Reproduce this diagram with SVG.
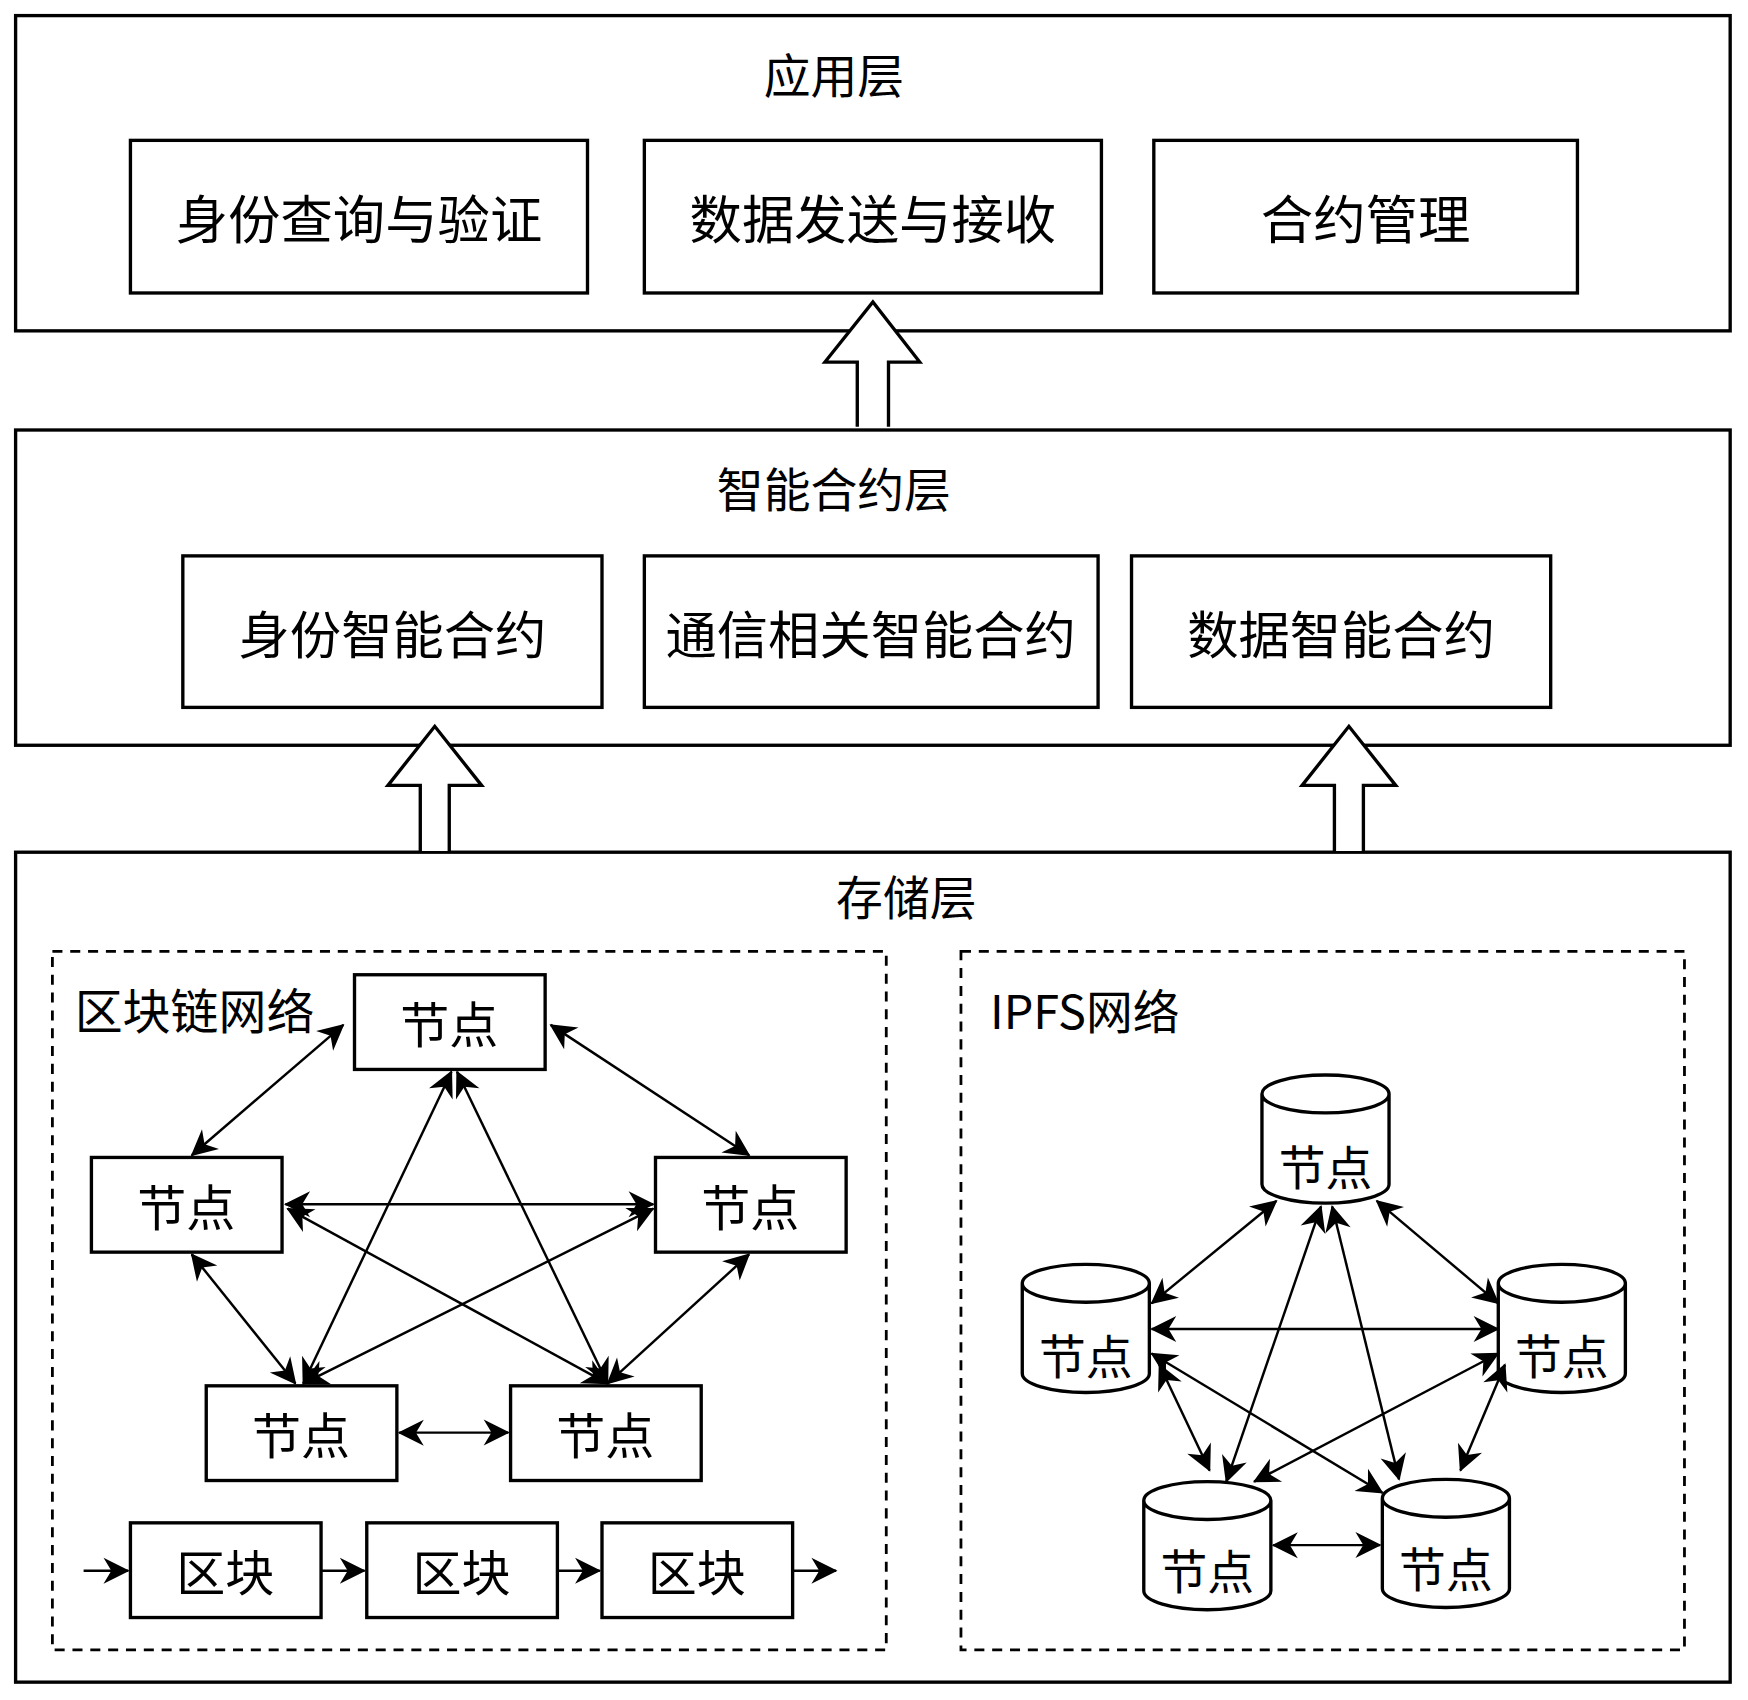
<svg xmlns="http://www.w3.org/2000/svg" width="1748" height="1700" viewBox="0 0 1748 1700">
<style>
.b{fill:#fff;stroke:#000;stroke-width:3}
.d{fill:none;stroke:#000;stroke-width:2.5;stroke-dasharray:9 7}
.t{font-family:"Noto Sans CJK SC","Noto Sans",sans-serif;fill:#000;text-anchor:middle;dominant-baseline:central}
.e{stroke:#000;stroke-width:2.2;fill:none;marker-start:url(#a);marker-end:url(#a)}
.s{stroke:#000;stroke-width:2.2;fill:none;marker-end:url(#a)}
</style>
<defs>
<marker id="a" viewBox="0 0 10 10" refX="9" refY="5" markerWidth="9" markerHeight="9" orient="auto-start-reverse" markerUnits="userSpaceOnUse" style="overflow:visible">
<path d="M0,0 L10,5 L0,10 L3,5 Z" transform="scale(2.6) translate(-6,-3.1)" fill="#000"/>
</marker>
</defs>
<rect width="1748" height="1700" fill="#fff"/>
<g transform="scale(1.1148,1.114)">
<g id="app">
<rect class="b" x="14" y="14" width="1538" height="283"/>
<text class="t" x="748" y="65" font-size="42">应用层</text>
</g>
<g id="n1"><rect class="b" x="117" y="126" width="410" height="137"/><text class="t" x="322" y="194" font-size="47">身份查询与验证</text></g>
<g id="n2"><rect class="b" x="578" y="126" width="410" height="137"/><text class="t" x="783" y="194" font-size="47">数据发送与接收</text></g>
<g id="n3"><rect class="b" x="1035" y="126" width="380" height="137"/><text class="t" x="1225" y="194" font-size="47">合约管理</text></g>
<g id="sc">
<rect class="b" x="14" y="386" width="1538" height="283"/>
<text class="t" x="748" y="437" font-size="42">智能合约层</text>
</g>
<g id="n4"><rect class="b" x="164" y="499" width="376" height="136"/><text class="t" x="352" y="567" font-size="46">身份智能合约</text></g>
<g id="n5"><rect class="b" x="578" y="499" width="407" height="136"/><text class="t" x="781" y="567" font-size="46">通信相关智能合约</text></g>
<g id="n6"><rect class="b" x="1015" y="499" width="376" height="136"/><text class="t" x="1203" y="567" font-size="46">数据智能合约</text></g>
<g id="st">
<rect class="b" x="14" y="765" width="1538" height="745"/>
<text class="t" x="813" y="803" font-size="42">存储层</text>
<rect class="d" x="47" y="854" width="748" height="627"/>
<text class="t" x="67" y="905" font-size="43" style="text-anchor:start">区块链网络</text>
<rect class="d" x="862" y="854" width="649" height="627"/>
<text class="t" x="888" y="905" font-size="42" style="text-anchor:start">IPFS网络</text>
</g>
<g id="bn1"><rect class="b" x="318" y="875" width="171" height="85"/><text class="t" x="403" y="917" font-size="44">节点</text></g>
<g id="bn2"><rect class="b" x="82" y="1039" width="171" height="85"/><text class="t" x="167" y="1081" font-size="44">节点</text></g>
<g id="bn3"><rect class="b" x="588" y="1039" width="171" height="85"/><text class="t" x="673" y="1081" font-size="44">节点</text></g>
<g id="bn4"><rect class="b" x="185" y="1244" width="171" height="85"/><text class="t" x="270" y="1286" font-size="44">节点</text></g>
<g id="bn5"><rect class="b" x="458" y="1244" width="171" height="85"/><text class="t" x="543" y="1286" font-size="44">节点</text></g>
<g id="k1"><rect class="b" x="117" y="1367" width="171" height="85"/><text class="t" x="202" y="1409" font-size="44">区块</text></g>
<g id="k2"><rect class="b" x="329" y="1367" width="171" height="85"/><text class="t" x="414" y="1409" font-size="44">区块</text></g>
<g id="k3"><rect class="b" x="540" y="1367" width="171" height="85"/><text class="t" x="625" y="1409" font-size="44">区块</text></g>
<g id="ip1"><path class="b" d="M1132,982 V1063 A57,17 0 0 0 1246,1063 V982 A57,17 0 0 0 1132,982 A57,17 0 0 0 1246,982"/><text class="t" x="1189" y="1045" font-size="42">节点</text></g>
<g id="ip2"><path class="b" d="M917,1152 V1233 A57,17 0 0 0 1031,1233 V1152 A57,17 0 0 0 917,1152 A57,17 0 0 0 1031,1152"/><text class="t" x="974" y="1215" font-size="42">节点</text></g>
<g id="ip3"><path class="b" d="M1344,1152 V1233 A57,17 0 0 0 1458,1233 V1152 A57,17 0 0 0 1344,1152 A57,17 0 0 0 1458,1152"/><text class="t" x="1401" y="1215" font-size="42">节点</text></g>
<g id="ip4"><path class="b" d="M1026,1347 V1428 A57,17 0 0 0 1140,1428 V1347 A57,17 0 0 0 1026,1347 A57,17 0 0 0 1140,1347"/><text class="t" x="1083" y="1408" font-size="42">节点</text></g>
<g id="ip5"><path class="b" d="M1240,1345 V1426 A57,17 0 0 0 1354,1426 V1345 A57,17 0 0 0 1240,1345 A57,17 0 0 0 1354,1345"/><text class="t" x="1297" y="1406" font-size="42">节点</text></g>
<g id="connectors">
<path class="b" d="M769,383 V325 H740 L783,271 L825,325 H797 V383"/>
<path class="b" d="M377,764 V705 H348 L390,652 L432,705 H403 V764"/>
<path class="b" d="M1197,764 V705 H1168 L1210,652 L1252,705 H1223 V764"/>
<line class="e" x1="308" y1="920" x2="172" y2="1037"/>
<line class="e" x1="494" y1="920" x2="672" y2="1037"/>
<line class="e" x1="256" y1="1081" x2="586" y2="1081"/>
<line class="e" x1="258" y1="1085" x2="545" y2="1242"/>
<line class="e" x1="586" y1="1085" x2="272" y2="1242"/>
<line class="e" x1="405" y1="962" x2="272" y2="1242"/>
<line class="e" x1="410" y1="962" x2="545" y2="1242"/>
<line class="e" x1="172" y1="1126" x2="265" y2="1242"/>
<line class="e" x1="672" y1="1126" x2="545" y2="1242"/>
<line class="e" x1="358" y1="1286" x2="456" y2="1286"/>
<line class="s" x1="75" y1="1410" x2="115" y2="1410"/>
<line class="s" x1="288" y1="1410" x2="327" y2="1410"/>
<line class="s" x1="500" y1="1410" x2="538" y2="1410"/>
<line class="s" x1="711" y1="1410" x2="750" y2="1410"/>
<line class="e" x1="1145" y1="1078" x2="1033" y2="1170"/>
<line class="e" x1="1235" y1="1078" x2="1344" y2="1170"/>
<line class="e" x1="1033" y1="1193" x2="1344" y2="1193"/>
<line class="e" x1="1185" y1="1083" x2="1100" y2="1330"/>
<line class="e" x1="1195" y1="1083" x2="1255" y2="1328"/>
<line class="e" x1="1033" y1="1215" x2="1240" y2="1340"/>
<line class="e" x1="1344" y1="1215" x2="1125" y2="1330"/>
<line class="e" x1="1040" y1="1225" x2="1085" y2="1320"/>
<line class="e" x1="1350" y1="1225" x2="1310" y2="1320"/>
<line class="e" x1="1142" y1="1387" x2="1238" y2="1387"/>
</g>
</g>
</svg>
